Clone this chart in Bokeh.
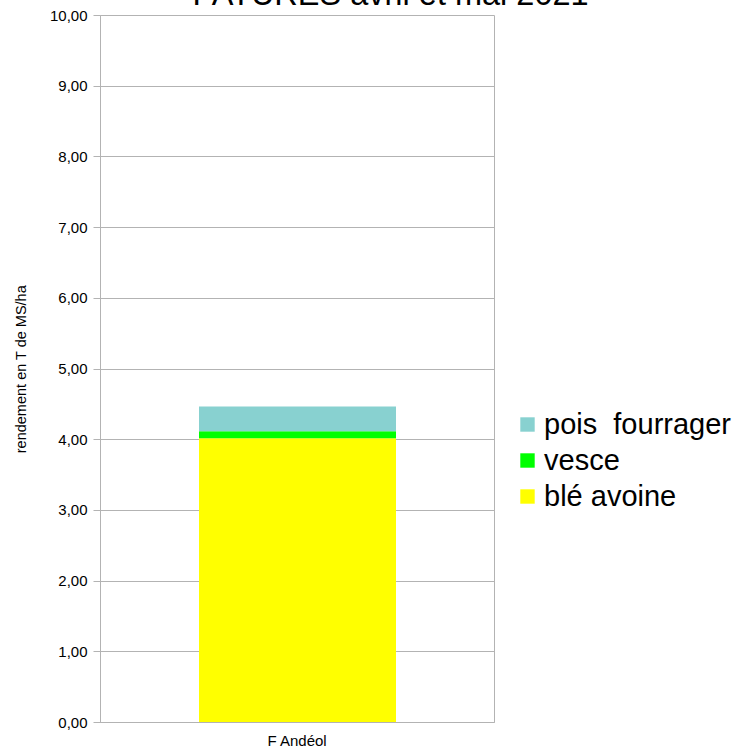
from bokeh.plotting import figure
from bokeh.models import FactorRange, FixedTicker, Legend, LegendItem, Range1d, Title
from bokeh.embed import file_html
from bokeh.resources import INLINE

categories = ["F Andéol"]
ble_avoine = [4.02]
vesce = [0.10]
pois_fourrager = [0.35]
series_names = ["blé avoine", "vesce", "pois  fourrager"]
series_colors = ["#ffff00", "#00ff00", "#88d1d0"]
y_ticks = [0, 1, 2, 3, 4, 5, 6, 7, 8, 9, 10]
y_tick_labels = ["0,00", "1,00", "2,00", "3,00", "4,00", "5,00", "6,00", "7,00", "8,00", "9,00", "10,00"]

data = {"cat": categories, "ble": ble_avoine, "vesce": vesce, "pois": pois_fourrager}

p = figure(x_range=FactorRange(*categories, range_padding=0), y_range=Range1d(0, 10),
           frame_width=394, frame_height=707, output_backend="svg", toolbar_location=None,
           min_border_left=100, min_border_right=251, min_border_top=47, min_border_bottom=29,
           margin=(-32, 0, 0, 0))

renderers = p.vbar_stack(["ble", "vesce", "pois"], x="cat", width=0.5, color=series_colors,
                         source=data, line_color=None)

p.title = Title(text="PATURES avril et mai 2021", align="left", text_font="Liberation Sans",
                text_font_size="32.5px", text_font_style="normal", text_color="#000000",
                offset=92, standoff=7)

grid_c = "#b3b3b3"
p.xgrid.grid_line_color = None
p.ygrid.grid_line_color = grid_c
p.outline_line_color = grid_c

p.yaxis.ticker = FixedTicker(ticks=y_ticks)
p.yaxis.major_label_overrides = {t: l for t, l in zip(y_ticks, y_tick_labels)}
p.yaxis.minor_tick_line_color = None
p.yaxis.axis_line_color = grid_c
p.yaxis.major_tick_line_color = grid_c
p.yaxis.major_tick_out = 7
p.yaxis.major_tick_in = 0
p.yaxis.major_label_standoff = 6
p.yaxis.major_label_text_font = "Liberation Sans"
p.yaxis.major_label_text_font_size = "15px"
p.yaxis.major_label_text_color = "#000000"
p.yaxis.axis_label = "rendement en T de MS/ha"
p.yaxis.axis_label_text_font = "Liberation Sans"
p.yaxis.axis_label_text_font_size = "14.5px"
p.yaxis.axis_label_text_font_style = "normal"
p.yaxis.axis_label_text_color = "#000000"
p.yaxis.axis_label_standoff = 18

p.xaxis.axis_line_color = grid_c
p.xaxis.major_tick_line_color = None
p.xaxis.major_label_standoff = 3
p.xaxis.major_label_text_font = "Liberation Sans"
p.xaxis.major_label_text_font_size = "15px"
p.xaxis.major_label_text_color = "#000000"

items = [LegendItem(label=series_names[i], renderers=[renderers[i]]) for i in [2, 1, 0]]
legend = Legend(items=items, location=(24, 208), orientation="vertical",
                label_text_font="Liberation Sans", label_text_font_size="29px",
                label_text_color="#000000", glyph_width=18, glyph_height=18,
                label_standoff=8, label_height=36, spacing=0, padding=0, margin=0,
                border_line_color=None, background_fill_alpha=0)
p.add_layout(legend, "right")

open("out.html", "w").write(file_html(p, INLINE))
